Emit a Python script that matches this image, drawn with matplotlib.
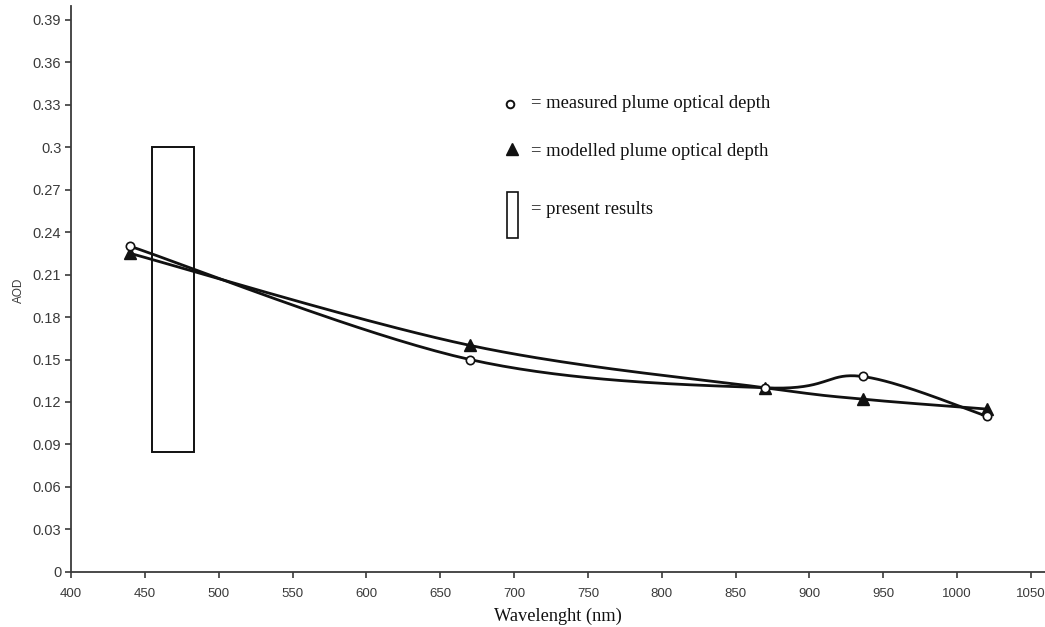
import numpy as np
import matplotlib
matplotlib.use('Agg')
import matplotlib.pyplot as plt
from matplotlib.patches import Rectangle
from matplotlib.lines import Line2D

wavelength = [440, 670, 870, 936, 1020]
measured = [0.230, 0.150, 0.130, 0.138, 0.110]
modelled = [0.225, 0.160, 0.130, 0.122, 0.115]

# present results band
present_x = (455, 483)
present_y = (0.085, 0.300)

INK = '#111111'
AXC = '#3a3a3a'
SERIF = 'Liberation Serif'
SANS = 'Liberation Sans'


def smooth(xs, ys, n=40):
    # Excel-style smoothed line (Catmull-Rom as cubic Bezier)
    p = np.column_stack([xs, ys]).astype(float)
    sx, sy = np.ptp(p[:, 0]) or 1, np.ptp(p[:, 1]) or 1
    q = p / [sx, sy]
    out = [q[0]]
    t = np.linspace(0, 1, n)[1:, None]
    for i in range(len(q) - 1):
        p0 = q[i - 1] if i > 0 else q[i]
        p3 = q[i + 2] if i + 2 < len(q) else q[i + 1]
        c1 = q[i] + (q[i + 1] - p0) / 6
        c2 = q[i + 1] - (p3 - q[i]) / 6
        seg = ((1 - t) ** 3 * q[i] + 3 * (1 - t) ** 2 * t * c1
               + 3 * (1 - t) * t ** 2 * c2 + t ** 3 * q[i + 1])
        out.extend(seg)
    out = np.array(out) * [sx, sy]
    return out[:, 0], out[:, 1]


fig = plt.figure(figsize=(10.45, 6.27), dpi=100)
ax = fig.add_axes([0.068, 0.088, 0.932, 0.903])

ax.add_patch(Rectangle((present_x[0], present_y[0]), present_x[1] - present_x[0],
                       present_y[1] - present_y[0], fill=False, edgecolor=INK, lw=1.4, zorder=2))

mx, my = smooth(wavelength, measured)
ax.plot(mx, my, color=INK, lw=2.0, zorder=3)
dx, dy = smooth(wavelength, modelled)
ax.plot(dx, dy, color=INK, lw=2.0, zorder=3)
ax.plot(wavelength, modelled, ls='none', marker='^', ms=8.5, color=INK, zorder=4)
ax.plot(wavelength, measured, ls='none', marker='o', ms=6, mfc='white', mec=INK, mew=1.2, zorder=5)

ax.set_xlim(400, 1059.5)
ax.set_ylim(0, 0.40)
ax.set_xticks(np.arange(400, 1051, 50))
yt = np.round(np.arange(0, 0.391, 0.03), 2)
ax.set_yticks(yt)
ax.set_yticklabels([f'{v:g}' for v in yt])
ax.tick_params(colors=AXC, length=4, width=1.2, direction='out')
ax.tick_params(axis='x', labelsize=9.5, pad=8)
ax.tick_params(axis='y', labelsize=10.5, pad=3)
for lab in ax.get_xticklabels() + ax.get_yticklabels():
    lab.set_fontfamily(SANS)
    lab.set_color(AXC)

for s in ['top', 'right']:
    ax.spines[s].set_visible(False)
for s in ['left', 'bottom']:
    ax.spines[s].set_color(AXC)
    ax.spines[s].set_linewidth(1.3)

ax.set_xlabel('Wavelenght (nm)', fontfamily=SERIF, fontsize=13.2, color=INK, labelpad=5)
fig.text(18.5 / 1045, 1 - 290 / 627, 'AOD', rotation=90, fontfamily=SANS, fontsize=8.5,
         color=AXC, ha='center', va='center')

# legend drawn by hand in figure pixels
W, H = 1045, 627
fig.lines.append(Line2D([510 / W], [1 - 104 / H], transform=fig.transFigure,
                        ls='none', marker='o', ms=5.5, mfc='white', mec=INK, mew=1.4))
fig.lines.append(Line2D([512 / W], [1 - 149 / H], transform=fig.transFigure,
                        ls='none', marker='^', ms=9, color=INK))
fig.patches.append(Rectangle((507 / W, 1 - 238 / H), 11 / W, 46 / H,
                             transform=fig.transFigure, fill=False, edgecolor=INK, lw=1.2))
fig.text(531 / W, 1 - 103 / H, '= measured plume optical depth', fontfamily=SERIF,
         fontsize=13.4, color=INK, ha='left', va='center')
fig.text(531 / W, 1 - 151 / H, '= modelled plume optical depth', fontfamily=SERIF,
         fontsize=13.4, color=INK, ha='left', va='center')
fig.text(531 / W, 1 - 210 / H, '= present results', fontfamily=SERIF,
         fontsize=13.4, color=INK, ha='left', va='center')

fig.savefig('out.png', dpi=100, facecolor='white')
